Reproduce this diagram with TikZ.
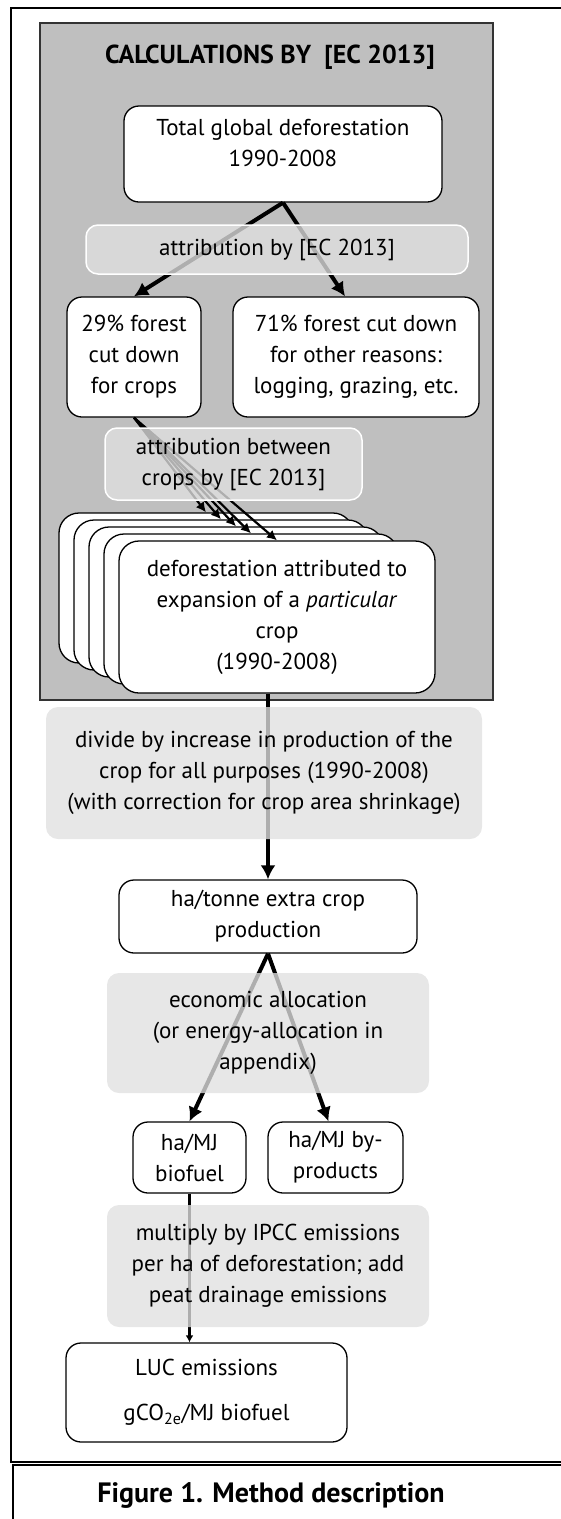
\documentclass[tikz,border=0pt]{standalone}
\usepackage{fontspec}
\setmainfont{PT Sans}
\usetikzlibrary{arrows.meta,patterns.meta}
\tikzset{>=latex}

\begin{document}
\begin{tikzpicture}[x=1pt,y=-1pt]
        \fontsize{23}{31}\selectfont
        \tikzset{
        box/.style={draw, fill=white, rounded corners=15pt, line width=1.3pt, align=center, inner sep=2pt},
        veil/.style={fill=black!12, fill opacity=0.78, text opacity=1, rounded corners=12pt, align=center, inner sep=2pt},
        fat/.style={-{Latex[length=14pt,width=15pt]}, line width=4pt},
        slim/.style={-{Latex[length=10pt,width=10pt]}, line width=2.2pt},
        }
        \useasboundingbox (0,0) rectangle (560,1519);

        % Frames.
        \draw [line width=1.5pt] (11,8) rectangle (580,1462);
        \draw [line width=2pt] (13,1465) rectangle (580,1540);
        \draw [line width=1.8pt, draw=black!80, fill=black!25] (40,23) rectangle (493,700);
        \path (270,57) node[font=\fontsize{26}{31}\bfseries] (title) {CALCULATIONS BY\ \ [EC 2013]};

        % Boxes.
        \path (283,154)   node[box, minimum width=318, minimum height=96]  (total) {Total global deforestation\\1990-2008\\[-8pt]};
        \path (134,357)   node[box, minimum width=134, minimum height=120] (crops) {29\% forest\\cut down\\for crops};
        \path (356,357)   node[box, minimum width=246, minimum height=120] (other) {71\% forest cut down\\for other reasons:\\logging, grazing, etc.};
        \foreach \k in {0,...,3}
          \path (206+15*\k,588+7*\k) node[box, rounded corners=20pt, minimum width=294, minimum height=150] (s\k) {};
        \path (277,617)   node[box, rounded corners=20pt, minimum width=316, minimum height=152] (s4) {deforestation attributed to\\expansion of a \textit{particular}\\crop\\(1990-2008)};
        \path (268,916.5) node[box, minimum width=298, minimum height=73]  (tonne) {ha/tonne extra crop\\production};
        \path (189.5,1157.5) node[box, minimum width=113, minimum height=71] (bio) {ha/MJ\\biofuel};
        \path (335.5,1157.5) node[box, minimum width=135, minimum height=71] (byp) {ha/MJ by-\\products};
        \path (206.5,1392.5) node[box, minimum width=281, minimum height=99] (luc) {LUC emissions\\[14pt]gCO\textsubscript{2e}/MJ biofuel};

        % Arrows.
        \draw [fat] (total.south) -- (crops.north);
        \draw [fat] (total.south) -- ([xshift=-11pt]other.north);
        \foreach \k in {0,...,4}
          \draw [slim] (crops.south) -- (s\k.north);
        \draw [fat] (tonne.north |- s4.south) -- (tonne.north);
        \draw [fat] (tonne.south) -- (bio.north);
        \draw [fat] (tonne.south) -- ([xshift=-7pt]byp.north);
        \draw [-{Latex[length=7pt,width=8pt]}, line width=3pt] (bio.south) -- (bio.south |- luc.north);

        % Steps.
        \path (277,249.5) node[veil, draw=white, line width=1.5pt, minimum width=382, minimum height=49] (attr) {attribution by [EC 2013]};
        \path (233.5,464) node[veil, draw=white, line width=1.5pt, minimum width=257, minimum height=72] (split) {attribution between\\crops by [EC 2013]};
        \path (264,773)   node[veil, minimum width=436, minimum height=132] (divide) {divide by increase in production of the\\crop for all purposes (1990-2008)\\(with correction for crop area shrinkage)};
        \path (268,1033)  node[veil, minimum width=322, minimum height=120] (alloc) {economic allocation\\(or energy-allocation in\\appendix)};
        \path (268,1266)  node[veil, minimum width=322, minimum height=122] (ipcc) {multiply by IPCC emissions\\per ha of deforestation; add\\peat drainage emissions};

        \path (271,1495) node[font=\fontsize{28}{31}\bfseries] (caption) {Figure 1. Method description};
      \end{tikzpicture}
\end{document}
